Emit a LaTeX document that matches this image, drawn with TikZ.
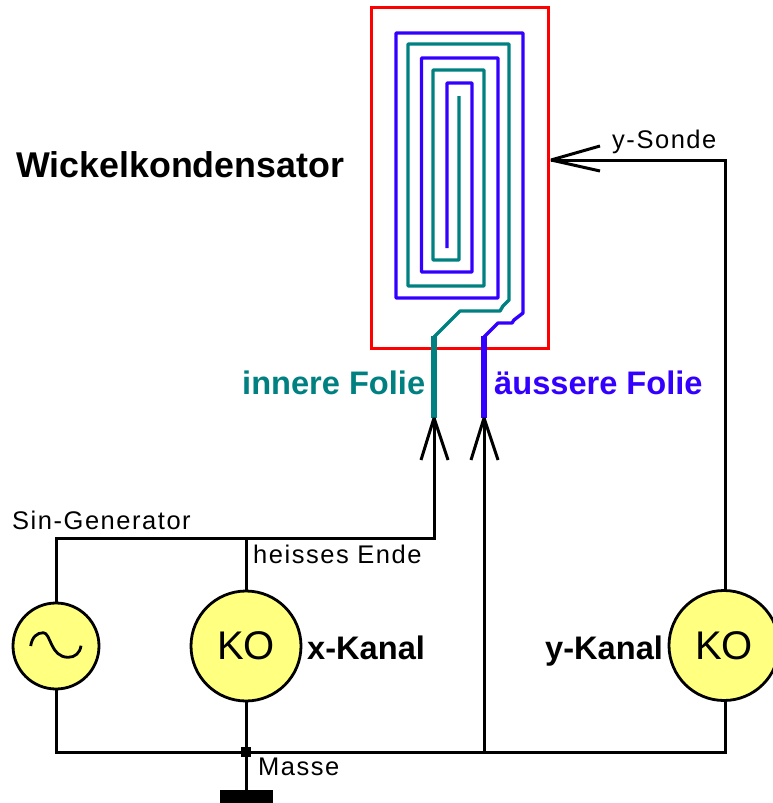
\documentclass[tikz,border=0pt]{standalone}
\usepackage{fontspec}
\setmainfont{Liberation Sans}
\newfontfamily\lblfont[LetterSpace=6]{Liberation Sans}
\newcommand{\fs}[1]{\fontsize{#1}{#1}\selectfont}
\definecolor{foilblue}{HTML}{3300FF}
\definecolor{foilteal}{HTML}{008080}
\definecolor{koyellow}{HTML}{FFFF80}
\tikzset{
  wire/.style={draw=black,line width=3pt,line join=miter},
  barb/.style={draw=black,line width=3pt,line join=bevel},
  foilb/.style={draw=foilblue,line width=3.4pt,line join=round},
  foilt/.style={draw=foilteal,line width=3.4pt,line join=round},
  lead/.style={line width=6.5pt},
  instr/.style={circle,draw=black,line width=2.8pt,fill=koyellow,inner sep=0pt,font=\fs{40}},
  lbl/.style={anchor=base west,inner sep=0pt,font=\lblfont\fs{25.5}},
  blbl/.style={anchor=base west,inner sep=0pt,font=\bfseries\fs{32.6}},
}
\begin{document}
\begin{tikzpicture}[x=1pt,y=-1pt]
\useasboundingbox (0,0) rectangle (773,803);
\clip (0,0) rectangle (773,803);
% capacitor case
\node[draw=red,line width=3pt,minimum width=177pt,minimum height=340.5pt,inner sep=0pt,anchor=north west] (case) at (369.5,6) {};
% named points
\coordinate (innertip) at (434,418);
\coordinate (outertip) at (484,418);
\coordinate (sondetip) at (551,160);
\coordinate (top) at (434,538);
\coordinate (bus) at (246,752);
\coordinate (ywire) at (725,590);
\coordinate (ybot) at (725,701);
% foils
\draw[foilb] (484,337) -- (498,323) -- (512,323) -- (514,320) -- (523,313) -- (523,33) -- (396,33) -- (396,298) -- (498,298) -- (498,58) -- (421.5,58) -- (421.5,272) -- (472,272) -- (472,83) -- (447,83) -- (447,248);
\draw[foilt] (434,337) -- (460,311) -- (500,311) -- (503,306) -- (509,300) -- (509,44) -- (408,44) -- (408,286) -- (484,286) -- (484,70) -- (433,70) -- (433,260) -- (459,260) -- (459,96);
\draw[foilb,lead] (484,336) -- (outertip);
\draw[foilt,lead] (434,336) -- (innertip);
% wires
\draw[wire] (innertip) -- (top) -- (top -| 56,0) -- (56,603);
\draw[wire] (top -| 246,0) -- (246,590);
\draw[wire] (56,688) -- (bus -| 56,0) -- (bus) -- (bus -| ybot) -- (ybot);
\draw[wire] (246,700) -- (bus);
\draw[wire] (outertip) -- (bus -| outertip);
\draw[wire] (sondetip) -- (ywire |- sondetip) -- (ywire);
% instruments
\node[instr,minimum size=86pt] (gen) at (56,646) {};
\node[instr,minimum size=110pt] (kox) at (246,646) {KO};
\node[instr,minimum size=110pt] (koy) at (724,645.5) {KO};
% sine
\draw[black,line width=2.8pt] (30.7,646) .. controls (32,637) and (37,632.7) .. (43.3,632.7) .. controls (51,632.7) and (50,657.3) .. (68.3,657.3) .. controls (75,657.3) and (80,653) .. (81,645.7);
% arrow barbs
\draw[barb] (421,460) -- (innertip) -- (448,460);
\draw[barb] (471,460) -- (outertip) -- (498,460);
\draw[barb] (600,146) -- (sondetip) -- (600,171);
% ground
\node[fill=black,minimum size=10pt,inner sep=0pt] (dot) at (bus) {};
\node[fill=black,minimum width=53pt,minimum height=14pt,inner sep=0pt,anchor=north] (gnd) at (246,790) {};
\draw[wire] (dot) -- (gnd);
% labels
\node[anchor=base west,inner sep=0pt,font=\bfseries\fs{35.8}] (title) at (16,177) {Wickelkondensator};
\node[blbl,text=foilteal] (inner) at (242,394) {innere Folie};
\node[blbl,text=foilblue] (outer) at (494,394) {äussere Folie};
\node[lbl] (sin) at (12,529) {Sin-Generator};
\node[lbl] (hot) at (253,563) {heisses Ende};
\node[lbl] (masse) at (258,775) {Masse};
\node[lbl] (sonde) at (612,148) {y-Sonde};
\node[blbl] (xk) at (307,659) {x-Kanal};
\node[blbl] (yk) at (545,659) {y-Kanal};
\end{tikzpicture}
\end{document}
